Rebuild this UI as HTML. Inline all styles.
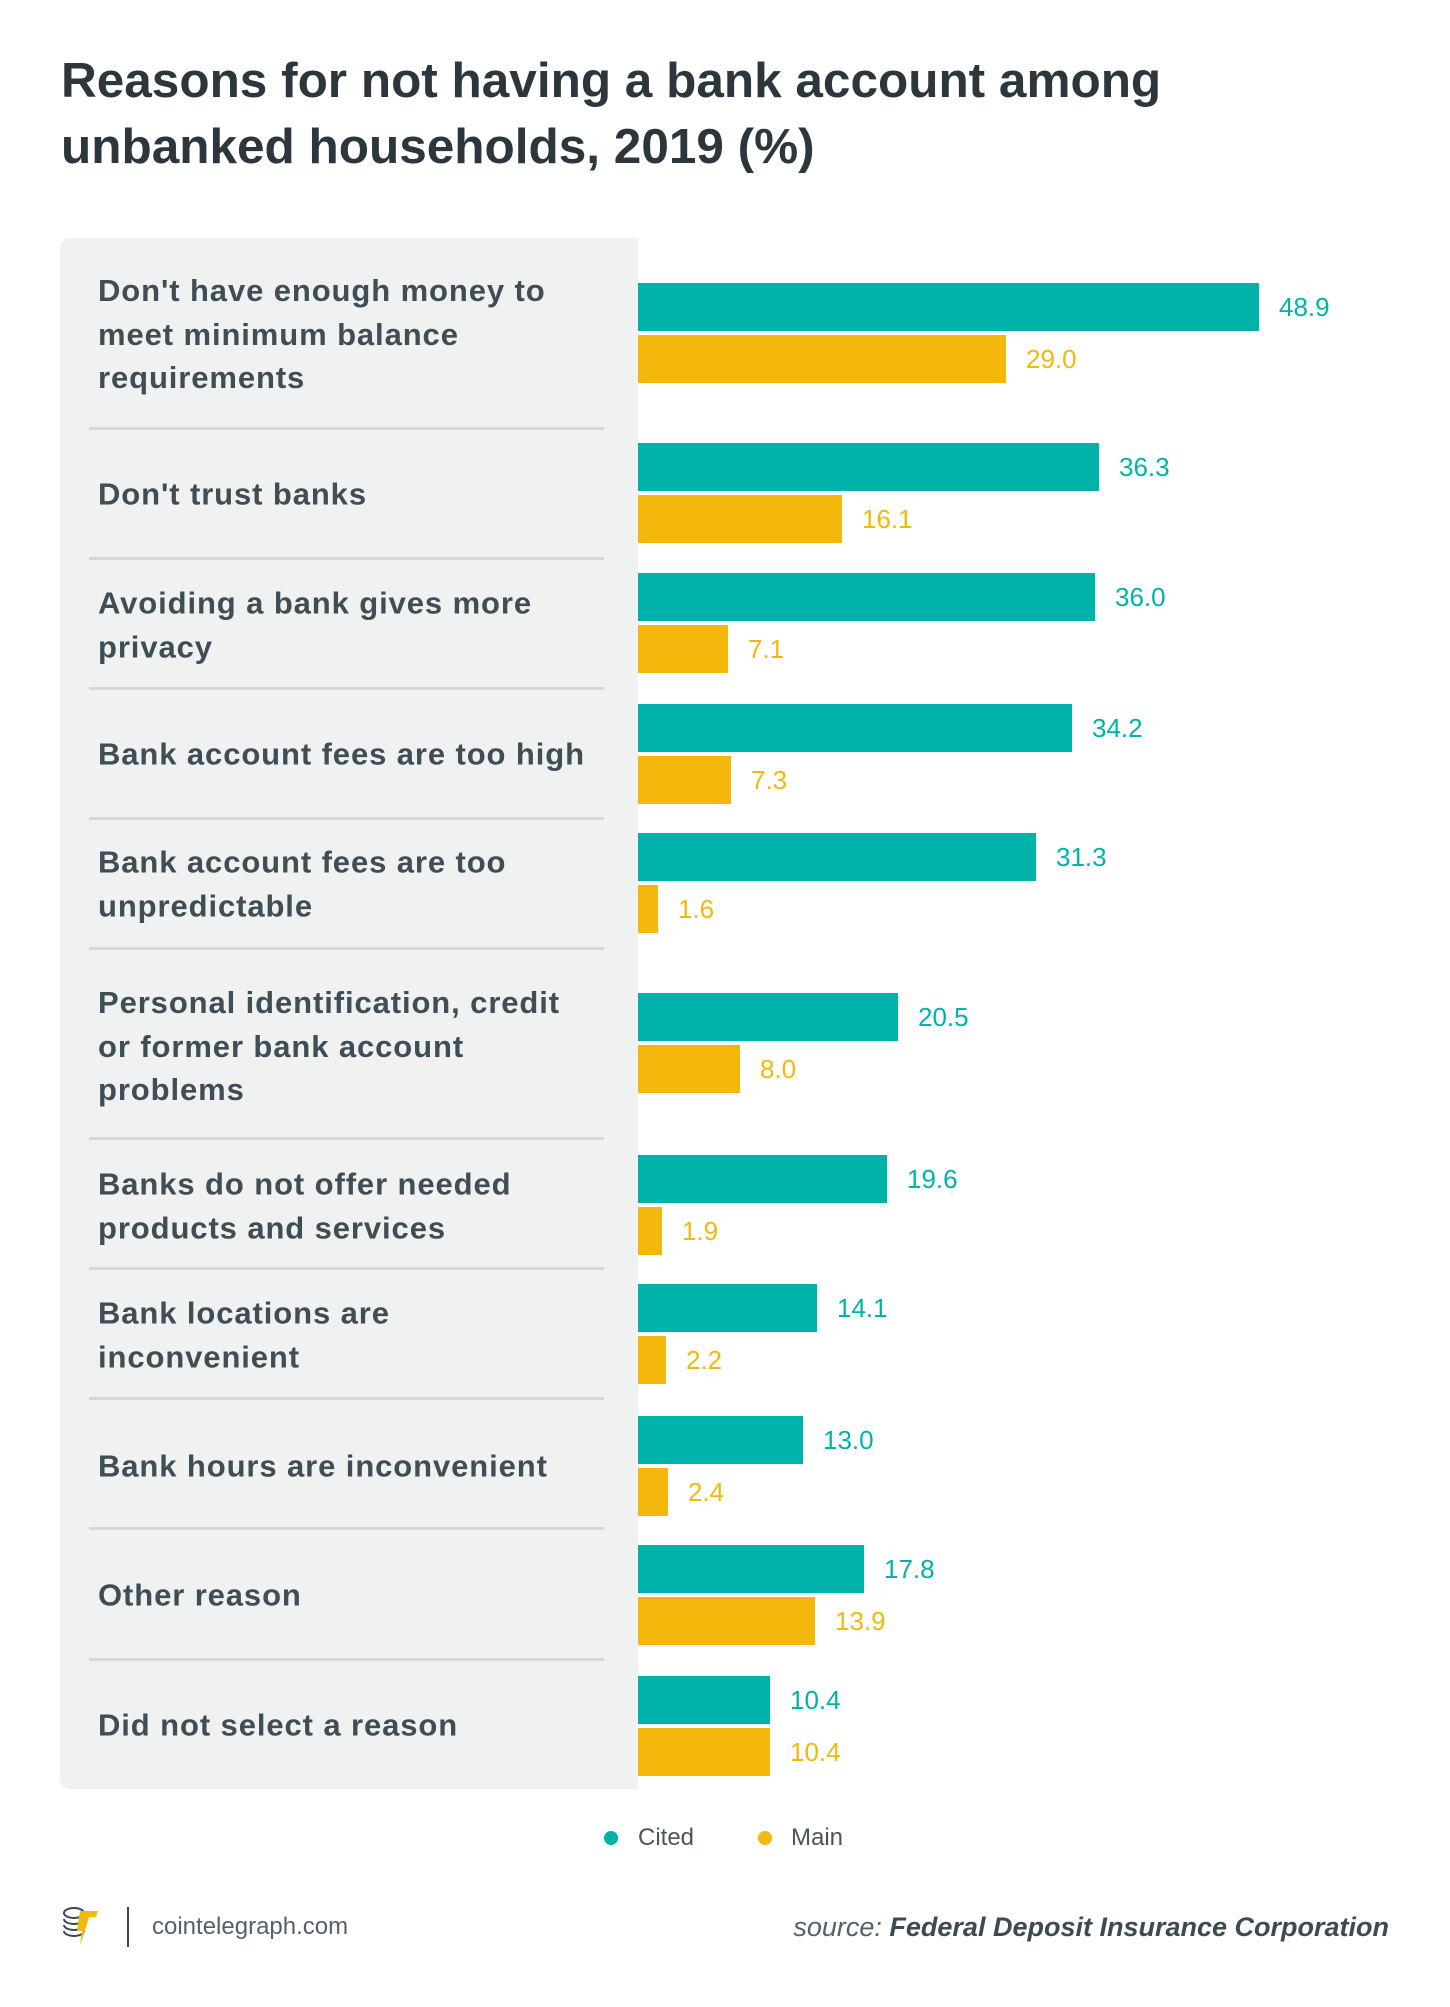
<!DOCTYPE html>
<html><head><meta charset="utf-8"><style>
*{margin:0;padding:0;box-sizing:border-box}
body{width:1450px;height:2007px;background:#fff;position:relative;overflow:hidden;font-family:"Liberation Sans",sans-serif;color:#3d4a52}
.t{position:absolute;left:61px;font-weight:bold;font-size:49.5px;color:#2b363d;line-height:66px;white-space:nowrap}
.panel{position:absolute;left:60px;top:238px;width:578px;height:1551px;background:#f0f1f1;border-radius:10px 0 0 10px}
.sep{position:absolute;left:89px;width:515px;height:3px;background:#d3d8da}
.lab{position:absolute;left:98px;white-space:nowrap;font-weight:bold;font-size:31px;letter-spacing:0.9px;line-height:43.5px;color:#3f4d56;transform:translateY(-50%)}
.b{position:absolute;left:638px;height:48px}
.c{background:#00b3aa}.m{background:#f4b70c}
.v{position:absolute;font-size:26px;line-height:48px}
.vc{color:#00b3aa}.vm{color:#f4b70c}
</style></head><body>
<div class="t" style="top:48px">Reasons for not having a bank account among</div>
<div class="t" style="top:114px">unbanked households, 2019 (%)</div>
<div class="panel"></div>
<div class="sep" style="top:427px"></div><div class="sep" style="top:557px"></div><div class="sep" style="top:687px"></div><div class="sep" style="top:817px"></div><div class="sep" style="top:947px"></div><div class="sep" style="top:1137px"></div><div class="sep" style="top:1267px"></div><div class="sep" style="top:1397px"></div><div class="sep" style="top:1527px"></div><div class="sep" style="top:1658px"></div>

<div class="lab" style="top:334px">Don't have enough money to<br>meet minimum balance<br>requirements</div>
<div class="lab" style="top:494px">Don't trust banks</div>
<div class="lab" style="top:625px">Avoiding a bank gives more<br>privacy</div>
<div class="lab" style="top:754px">Bank account fees are too high</div>
<div class="lab" style="top:884px">Bank account fees are too<br>unpredictable</div>
<div class="lab" style="top:1046px">Personal identification, credit<br>or former bank account<br>problems</div>
<div class="lab" style="top:1206px">Banks do not offer needed<br>products and services</div>
<div class="lab" style="top:1335px">Bank locations are<br>inconvenient</div>
<div class="lab" style="top:1466px">Bank hours are inconvenient</div>
<div class="lab" style="top:1595px">Other reason</div>
<div class="lab" style="top:1725px">Did not select a reason</div>

<div class="b c" style="top:283px;width:621px"></div><div class="v vc" style="top:283px;left:1279px">48.9</div>
<div class="b m" style="top:335px;width:368px"></div><div class="v vm" style="top:335px;left:1026px">29.0</div>
<div class="b c" style="top:443px;width:461px"></div><div class="v vc" style="top:443px;left:1119px">36.3</div>
<div class="b m" style="top:495px;width:204px"></div><div class="v vm" style="top:495px;left:862px">16.1</div>
<div class="b c" style="top:573px;width:457px"></div><div class="v vc" style="top:573px;left:1115px">36.0</div>
<div class="b m" style="top:625px;width:90px"></div><div class="v vm" style="top:625px;left:748px">7.1</div>
<div class="b c" style="top:704px;width:434px"></div><div class="v vc" style="top:704px;left:1092px">34.2</div>
<div class="b m" style="top:756px;width:93px"></div><div class="v vm" style="top:756px;left:751px">7.3</div>
<div class="b c" style="top:833px;width:398px"></div><div class="v vc" style="top:833px;left:1056px">31.3</div>
<div class="b m" style="top:885px;width:20px"></div><div class="v vm" style="top:885px;left:678px">1.6</div>
<div class="b c" style="top:993px;width:260px"></div><div class="v vc" style="top:993px;left:918px">20.5</div>
<div class="b m" style="top:1045px;width:102px"></div><div class="v vm" style="top:1045px;left:760px">8.0</div>
<div class="b c" style="top:1155px;width:249px"></div><div class="v vc" style="top:1155px;left:907px">19.6</div>
<div class="b m" style="top:1207px;width:24px"></div><div class="v vm" style="top:1207px;left:682px">1.9</div>
<div class="b c" style="top:1284px;width:179px"></div><div class="v vc" style="top:1284px;left:837px">14.1</div>
<div class="b m" style="top:1336px;width:28px"></div><div class="v vm" style="top:1336px;left:686px">2.2</div>
<div class="b c" style="top:1416px;width:165px"></div><div class="v vc" style="top:1416px;left:823px">13.0</div>
<div class="b m" style="top:1468px;width:30px"></div><div class="v vm" style="top:1468px;left:688px">2.4</div>
<div class="b c" style="top:1545px;width:226px"></div><div class="v vc" style="top:1545px;left:884px">17.8</div>
<div class="b m" style="top:1597px;width:177px"></div><div class="v vm" style="top:1597px;left:835px">13.9</div>
<div class="b c" style="top:1676px;width:132px"></div><div class="v vc" style="top:1676px;left:790px">10.4</div>
<div class="b m" style="top:1728px;width:132px"></div><div class="v vm" style="top:1728px;left:790px">10.4</div>

<div style="position:absolute;left:604px;top:1831px;width:14px;height:14px;border-radius:50%;background:#00b3aa"></div>
<div style="position:absolute;left:638px;top:1823px;font-size:24px;line-height:30px;color:#4a565e">Cited</div>
<div style="position:absolute;left:758px;top:1831px;width:14px;height:14px;border-radius:50%;background:#f4b70c"></div>
<div style="position:absolute;left:791px;top:1823px;font-size:24px;line-height:30px;color:#4a565e">Main</div>

<svg style="position:absolute;left:60px;top:1905px" width="45" height="44" viewBox="0 0 45 44">
<g fill="none" stroke="#3d4a52" stroke-width="2"><ellipse cx="14" cy="8" rx="10" ry="5"/><path d="M4 14a10 5 0 0 0 20 0M4 20a10 5 0 0 0 20 0M4 26a10 5 0 0 0 20 0"/></g>
<path d="M20 6h18l-2 6h-7l-6 20 -3 8 2-14h-5z" fill="#f4b70c"/></svg>
<div style="position:absolute;left:127px;top:1907px;width:2px;height:40px;background:#3d4a52"></div>
<div style="position:absolute;left:152px;top:1912px;font-size:24px;line-height:30px;color:#55616a">cointelegraph.com</div>
<div style="position:absolute;right:61px;top:1910px;font-size:27px;line-height:34px;font-style:italic;color:#55616a">source: <b style="color:#3d4a52">Federal Deposit Insurance Corporation</b></div>
</body></html>
